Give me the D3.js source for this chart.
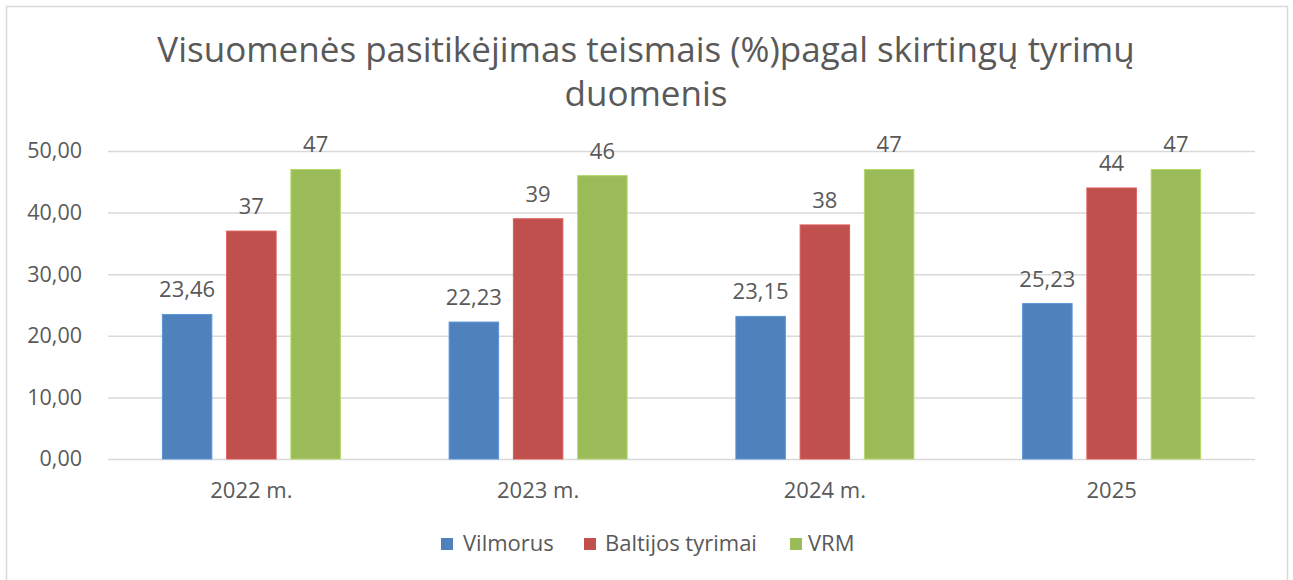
<!DOCTYPE html>
<html><head><meta charset="utf-8">
<script src="https://cdn.jsdelivr.net/npm/d3@7"></script>
<style>body{margin:0;background:#fff;} text{font-family:"Open Sans",sans-serif;fill:#595959;}</style>
</head><body>
<svg id="c" width="1293" height="580"></svg>
<script>
const categories = ["2022 m.", "2023 m.", "2024 m.", "2025"];
const seriesNames = ["Vilmorus", "Baltijos tyrimai", "VRM"];
const vilmorus = [23.46, 22.23, 23.15, 25.23];
const baltijos = [37, 39, 38, 44];
const vrm = [47, 46, 47, 47];
const yTicks = [0, 10, 20, 30, 40, 50];
const colors = ["#4f81bd", "#c0504d", "#9bbb59"];
const titleLines = ["Visuomenės pasitikėjimas teismais (%)pagal skirtingų tyrimų", "duomenis"];

const seriesVals = [vilmorus, baltijos, vrm];
const fmtLabel = [v => d3.format(".2f")(v).replace(".", ","), v => String(v), v => String(v)];

const svg = d3.select("#c");
svg.append("rect").attr("x", 6.5).attr("y", 6.5).attr("width", 1281).attr("height", 600)
  .attr("fill", "#fff").attr("stroke", "#d9d9d9").attr("stroke-width", 1.5);

const pL = 108, pR = 1255, pT = 151, pB = 459;
const x = d3.scaleBand().domain(categories).range([pL, pR]);
const x1 = d3.scaleBand().domain(seriesNames).range([0, 178]).paddingInner(0.23);
const y = d3.scaleLinear().domain([0, 50]).range([pB, pT]);

// gridlines
const yAxis = d3.axisLeft(y).tickValues(yTicks).tickSize(-(pR - pL)).tickPadding(26)
  .tickFormat(d => d3.format(".2f")(d).replace(".", ","));
const ga = svg.append("g").attr("transform", `translate(${pL},0)`).call(yAxis);
ga.select(".domain").remove();
ga.selectAll("line").attr("stroke", "#d9d9d9").attr("stroke-width", 1.5);
ga.selectAll("text").style("font-size", "21.5px").attr("fill", "#595959");

// x axis labels
const xa = d3.axisBottom(x).tickSize(0).tickPadding(23);
const gx = svg.append("g").attr("transform", `translate(0,${pB})`).call(xa);
gx.select(".domain").remove();
gx.selectAll("text").style("font-size", "22px").attr("fill", "#595959");

// bars
seriesNames.forEach((s, si) => {
  const g = svg.append("g");
  categories.forEach((c, ci) => {
    const v = seriesVals[si][ci];
    const bx = x(c) + (x.bandwidth() - 178) / 2 + x1(s);
    g.append("rect").attr("x", bx).attr("y", y(v)).attr("width", x1.bandwidth())
      .attr("height", y(0) - y(v)).attr("fill", colors[si])
      .attr("stroke", d3.color(colors[si]).brighter(0.4)).attr("stroke-width", 1);
    g.append("text").attr("x", bx + x1.bandwidth() / 2).attr("y", y(v) - 17)
      .attr("text-anchor", "middle").style("font-size", "22px").text(fmtLabel[si](v));
  });
});

// title
const tt = svg.append("text").attr("text-anchor", "middle").style("font-size", "35px");
titleLines.forEach((l, i) => tt.append("tspan").attr("x", 646).attr("y", 62 + i * 44).text(l));

// legend
const legX = [441, 584, 790];
const legTX = [463, 605, 808];
seriesNames.forEach((s, i) => {
  svg.append("rect").attr("x", legX[i]).attr("y", 538).attr("width", 12).attr("height", 12).attr("fill", colors[i]);
  svg.append("text").attr("x", legTX[i]).attr("y", 551).style("font-size", "22px").text(s);
});
</script>
</body></html>
